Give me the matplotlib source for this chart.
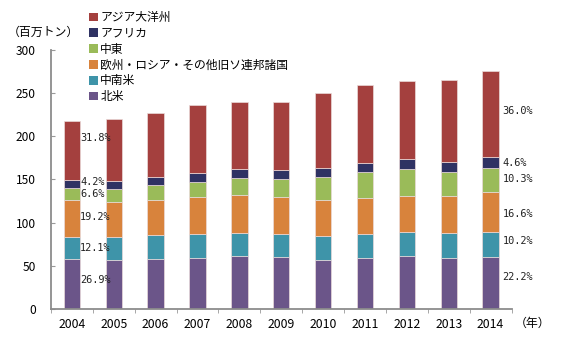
import matplotlib
matplotlib.use("Agg")
import matplotlib.pyplot as plt
from matplotlib.patches import Patch
import numpy as np

plt.rcParams['font.family'] = ['Noto Sans CJK JP', 'DejaVu Sans']

years = ['2004', '2005', '2006', '2007', '2008', '2009', '2010', '2011', '2012', '2013', '2014']
series_names = ['北米', '中南米', '欧州・ロシア・その他旧ソ連邦諸国', '中東', 'アフリカ', 'アジア大洋州']
north_america = [57.7, 56.1, 57.7, 59.2, 61.2, 59.7, 56.5, 58.8, 60.8, 59.2, 60.4]
latin_america = [25.9, 26.8, 27.5, 27.1, 27.0, 27.4, 28.3, 28.3, 28.6, 28.3, 29.0]
europe_fsu = [42.4, 41.3, 41.0, 43.7, 43.8, 42.6, 41.7, 41.8, 41.8, 43.7, 45.7]
middle_east = [14.0, 14.8, 17.0, 17.4, 20.0, 21.2, 26.4, 29.4, 30.9, 27.5, 27.9]
africa = [9.4, 8.8, 9.7, 10.5, 10.5, 10.5, 10.8, 11.2, 11.3, 11.9, 12.7]
asia_pacific = [68.6, 72.2, 74.1, 78.1, 77.5, 78.6, 86.3, 90.1, 91.2, 95.2, 99.8]
colors = ['#6B5589', '#3E94A9', '#D8833C', '#9ABB59', '#2F3263', '#A4403E']

share_2004 = ['26.9%', '12.1%', '19.2%', '6.6%', '4.2%', '31.8%']
share_2014 = ['22.2%', '10.2%', '16.6%', '10.3%', '4.6%', '36.0%']
# small vertical nudges (data units) of the share labels relative to segment centres
nudge_2004 = [5, 0, 2, 0, 2.5, 15]
nudge_2014 = [7, 3.5, -2, 1, 0, 4]

series = [north_america, latin_america, europe_fsu, middle_east, africa, asia_pacific]

fig = plt.figure(figsize=(5.64, 3.42), dpi=100)
ax = fig.add_axes([0.0904, 0.0974, 0.8166, 0.7556])

x = np.arange(len(years))
bottom = np.zeros(len(years))
bars = []
for vals, c in zip(series, colors):
    v = np.array(vals)
    ax.bar(x, v, width=0.39, bottom=bottom, color=c, edgecolor='#eadada', linewidth=0.5, zorder=2)
    bars.append((bottom.copy(), v))
    bottom += v

# share labels for 2004 and 2014
for i, (bot, v) in enumerate(bars):
    y0 = bot[0] + v[0] / 2 + nudge_2004[i]
    ax.text(x[0] + 0.2, y0, share_2004[i], fontsize=7.4, family=['DejaVu Sans Mono'],
            ha='left', va='center', color='#222222', zorder=3)
    y1 = bot[-1] + v[-1] / 2 + nudge_2014[i]
    ax.text(x[-1] + 0.28, y1, share_2014[i], fontsize=7.4, family=['DejaVu Sans Mono'],
            ha='left', va='center', color='#222222', zorder=3)

ax.set_xlim(-0.5, len(years) - 0.5)
ax.set_ylim(0, 300)
ax.set_yticks(np.arange(0, 301, 50))
ax.tick_params(axis='y', direction='in', length=3, color='#999999', pad=11, labelsize=8.6)
ax.set_xticks(x)
ax.set_xticklabels(years)
ax.tick_params(axis='x', which='major', length=0, pad=7, labelsize=8.8)
ax.set_xticks(np.arange(-0.5, len(years), 1.0), minor=True)
ax.tick_params(axis='x', which='minor', direction='out', length=3, color='#999999')

for s in ['top', 'right']:
    ax.spines[s].set_visible(False)
for s in ['left', 'bottom']:
    ax.spines[s].set_color('#8c8c8c')
    ax.spines[s].set_linewidth(1.3)

fig.text(8 / 564, 1 - 32 / 342, '（百万トン）', fontsize=8.6, ha='left', va='center')
fig.text(515 / 564, 1 - 323 / 342, '（年）', fontsize=8.6, ha='left', va='center')

handles = [Patch(facecolor=c, edgecolor='none') for c in colors[::-1]]
labels = series_names[::-1]
fig.legend(handles, labels, loc='upper left', bbox_to_anchor=(89 / 564, 1 - 11 / 342),
           frameon=False, fontsize=8.5, handlelength=0.75, handleheight=0.75,
           handletextpad=0.2, labelspacing=0.24, borderaxespad=0, borderpad=0)

fig.savefig('out.png', dpi=100)
